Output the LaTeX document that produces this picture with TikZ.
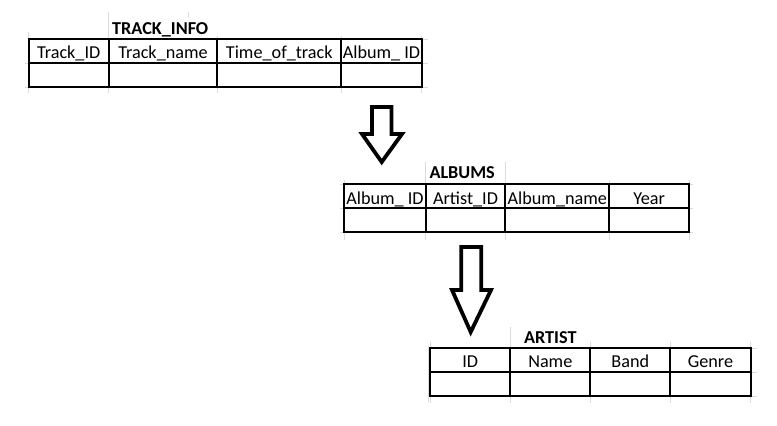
\documentclass[tikz,border=0pt]{standalone}
\usepackage{fontspec}
\setmainfont{Carlito}
\begin{document}
\begin{tikzpicture}[x=1pt,y=-1pt,
  tline/.style={line width=1.8pt,black},
  faint/.style={line width=1pt,black!14},
  cell/.style={anchor=base,font=\fontsize{18.2}{21}\selectfont,inner sep=0pt},
  ttl/.style={anchor=base,font=\fontsize{18.2}{21}\selectfont\bfseries,inner sep=0pt},
  blockarrow/.style={line width=3.8pt,line join=miter,draw=black}]
\useasboundingbox (0,0) rectangle (777,426);

% ---------- TRACK_INFO ----------
\draw[faint] (108.7,12) -- (108.7,39.3) (188,12) -- (188,17);
\foreach \x/\t in {28.7/32,217.3/36,341.3/36,421.7/36}
  \draw[faint] (\x,\t) -- (\x,39.3);
\foreach \x in {28.7,108.7,217.3,341.3,421.7}
  \draw[faint] (\x,87.3) -- (\x,93);
\foreach \y in {63,87.3} \draw[faint] (25,\y) -- (28.7,\y);
\foreach \y in {39.3,63,87.3} \draw[faint] (421.7,\y) -- (428,\y);
\draw[tline] (28.7,39.3) rectangle (421.7,87.3);
\draw[tline] (28.7,63) -- (421.7,63);
\foreach \x in {108.7,217.3,341.3} \draw[tline] (\x,39.3) -- (\x,87.3);
\node[ttl,anchor=base west] (t1) at (112,34.3) {TRACK\_INFO};
\node[cell] (t1a) at (68.7,58.7) {Track\_ID};
\node[cell] (t1b) at (163,58.7) {Track\_name};
\node[cell] (t1c) at (279.3,58.7) {Time\_of\_track};
\node[cell] (t1d) at (381.5,58.7) {Album\_ ID};

% ---------- arrow 1 ----------
\draw[blockarrow] (372,107) -- (391.5,107) -- (391.5,134) -- (402,134)
  -- (381.7,162) -- (362,134) -- (372,134) -- cycle;

% ---------- ALBUMS ----------
\draw[faint] (425.7,161.7) -- (425.7,184.3) (505.3,161.7) -- (505.3,184.3);
\foreach \x in {344.3,609.3,689} \draw[faint] (\x,180) -- (\x,184.3);
\foreach \x in {344.3,425.7,505.3,609.3,689} \draw[faint] (\x,232) -- (\x,240);
\foreach \y in {184.3,208.3,232} \draw[faint] (340,\y) -- (344.3,\y);
\foreach \y in {184.3,208.3,232} \draw[faint] (689,\y) -- (693,\y);
\draw[tline] (344.3,184.3) rectangle (689,232);
\draw[tline] (344.3,208.3) -- (689,208.3);
\foreach \x in {425.7,505.3,609.3} \draw[tline] (\x,184.3) -- (\x,232);
\node[ttl,anchor=base west] (t2) at (429.3,178.3) {ALBUMS};
\node[cell] (t2a) at (385,204) {Album\_ ID};
\node[cell] (t2b) at (465.5,204) {Artist\_ID};
\node[cell] (t2c) at (557.3,204) {Album\_name};
\node[cell] (t2d) at (649.2,204) {Year};

% ---------- arrow 2 ----------
\draw[blockarrow] (461.3,247) -- (481.3,247) -- (481.3,290) -- (491,290)
  -- (470.7,332) -- (452,290) -- (461.3,290) -- cycle;

% ---------- ARTIST ----------
\draw[faint] (510.3,326.7) -- (510.3,348.3);
\foreach \x in {430,590.3,670.3,750.7} \draw[faint] (\x,342) -- (\x,348.3);
\foreach \x in {430,510.3,590.3,670.3,750.7} \draw[faint] (\x,396.3) -- (\x,403);
\draw[faint] (428,346) -- (428,402);
\foreach \y in {348.3,372,396.3} \draw[faint] (750.7,\y) -- (757,\y);
\draw[tline] (430,348.3) rectangle (750.7,396.3);
\draw[tline] (430,372) -- (750.7,372);
\foreach \x in {510.3,590.3,670.3} \draw[tline] (\x,348.3) -- (\x,396.3);
\node[ttl] (t3) at (550.3,343.3) {ARTIST};
\node[cell] (t3a) at (470.2,367.5) {ID};
\node[cell] (t3b) at (550.3,367.5) {Name};
\node[cell] (t3c) at (630.3,367.5) {Band};
\node[cell] (t3d) at (710.5,367.5) {Genre};
\end{tikzpicture}
\end{document}
